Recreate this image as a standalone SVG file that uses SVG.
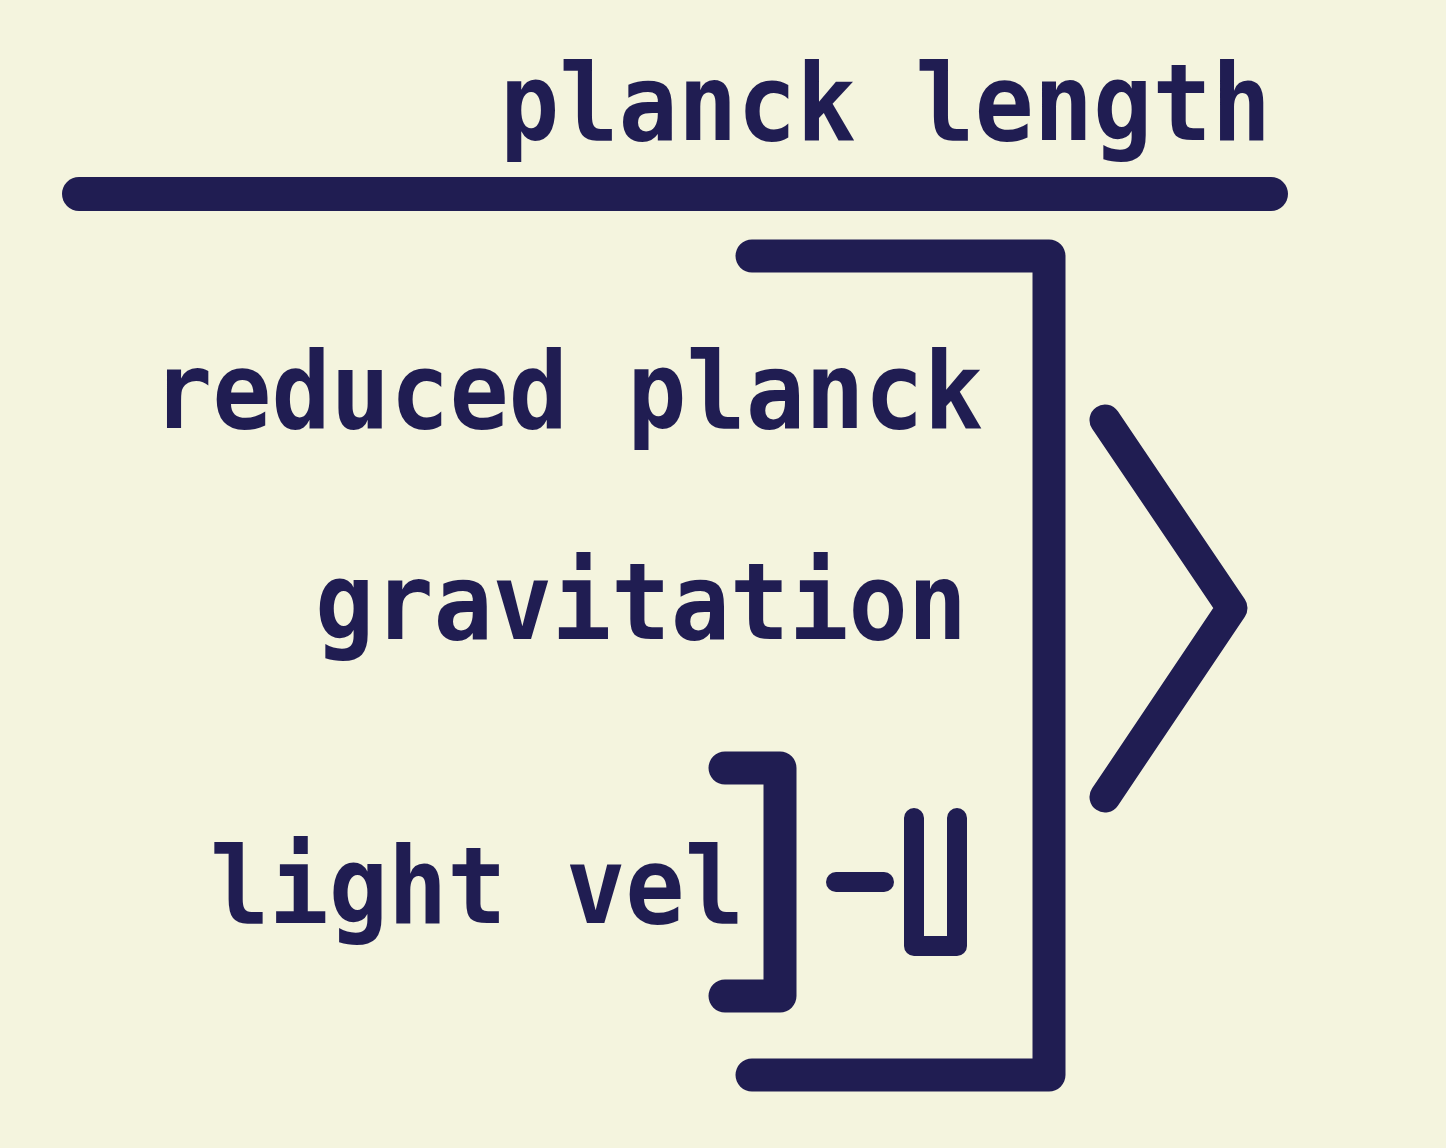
<svg xmlns="http://www.w3.org/2000/svg" width="1446" height="1148" viewBox="0 0 1446 1148">
<style>
.t{font-family:"DejaVu Sans Mono","Liberation Mono",monospace;font-weight:bold;font-size:107px;fill:#201d52}
.s{fill:none;stroke:#201d52;stroke-linecap:round;stroke-linejoin:round}
</style>
<rect x="0" y="0" width="1446" height="1148" fill="#f4f4de"/>
<g id="labels">
<text id="planck-length" class="t" x="500" y="140" textLength="771" lengthAdjust="spacingAndGlyphs">planck length</text>
<text id="reduced-planck" class="t" x="153" y="428" textLength="830" lengthAdjust="spacingAndGlyphs">reduced planck</text>
<text id="gravitation" class="t" x="315" y="639" textLength="652" lengthAdjust="spacingAndGlyphs">gravitation</text>
<text id="light-vel" class="t" x="210" y="923" textLength="534" lengthAdjust="spacingAndGlyphs">light vel</text>
</g>
<g id="connectors">
<path id="fraction-bar" class="s" stroke-width="34" d="M79,194 H1271"/>
<path id="big-bracket" class="s" stroke-width="33" d="M752,256 H1049 V1075 H752"/>
<path id="chevron" class="s" stroke-width="31" d="M1105,420 L1232,608 L1105,797"/>
<path id="small-bracket" class="s" stroke-width="33" d="M725,768 H780 V996 H725"/>
<path id="dash" class="s" stroke-width="20" d="M836,882 H884"/>
<path id="u-shape" class="s" stroke-width="20" d="M914,818 V946 H957 V818"/>
</g>
</svg>
